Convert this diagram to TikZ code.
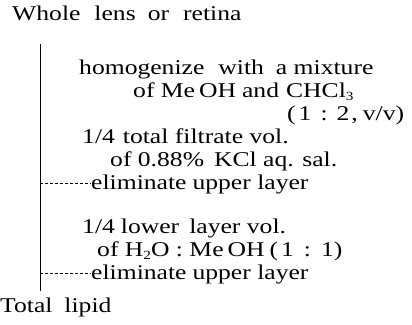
\documentclass[tikz,border=0pt]{standalone}
\usepackage{fontspec}
\setmainfont[FakeStretch=1.22]{Liberation Serif}
\newcommand\gp[1]{\hspace{#1pt}}
\newcommand\sbs[1]{\raisebox{-3pt}{\fontsize{12.5}{12.5}\selectfont #1}}
\begin{document}
\begin{tikzpicture}[x=1pt,y=-1pt,
  txt/.style={anchor=base west,inner sep=0pt,font=\fontsize{21}{25}\selectfont},
  vline/.style={line width=0.8pt},
  dline/.style={line width=0.6pt,dash pattern=on 3pt off 2pt}]
\useasboundingbox (0,0) rectangle (412,324);
\node[txt] (t0) at (12,20) {Whole\gp{14}lens\gp{12}or\gp{14}retina};
\node[txt] (t1) at (79,74) {homogenize\gp{14}with\gp{12}a mixture};
\node[txt] (t2) at (133,97) {of Me\gp{4}OH\gp{6}and\gp{7}CHCl\sbs{3}};
\node[txt] (t3) at (287,120) {(\gp{3}1\gp{9}:\gp{9}2\gp{2},\gp{5}v/v)};
\node[txt] (t4) at (82,143) {1/4\gp{8}total filtrate vol.};
\node[txt] (t5) at (110,166) {of 0.88\%\gp{10}KCl aq. sal.};
\node[txt] (t6) at (91,189) {eliminate\gp{6}upper layer};
\node[txt] (t7) at (82,233) {1/4\gp{6}lower\gp{10}layer vol.};
\node[txt] (t8) at (97,256) {of H\sbs{2}O : Me\gp{4}OH\gp{5}(\gp{3}1\gp{10}:\gp{10}1)};
\node[txt] (t9) at (91,279) {eliminate\gp{6}upper layer};
\node[txt] (t10) at (0,312) {Total\gp{12}lipid};
\coordinate (top) at (40,44);
\coordinate (bot) at (40,291);
\draw[vline] (top) -- (bot);
\coordinate (d1) at (40,183);
\coordinate (d2) at (40,273);
\draw[dline] (d1) -- (t6.west |- d1);
\draw[dline] (d2) -- (t9.west |- d2);
\end{tikzpicture}
\end{document}
